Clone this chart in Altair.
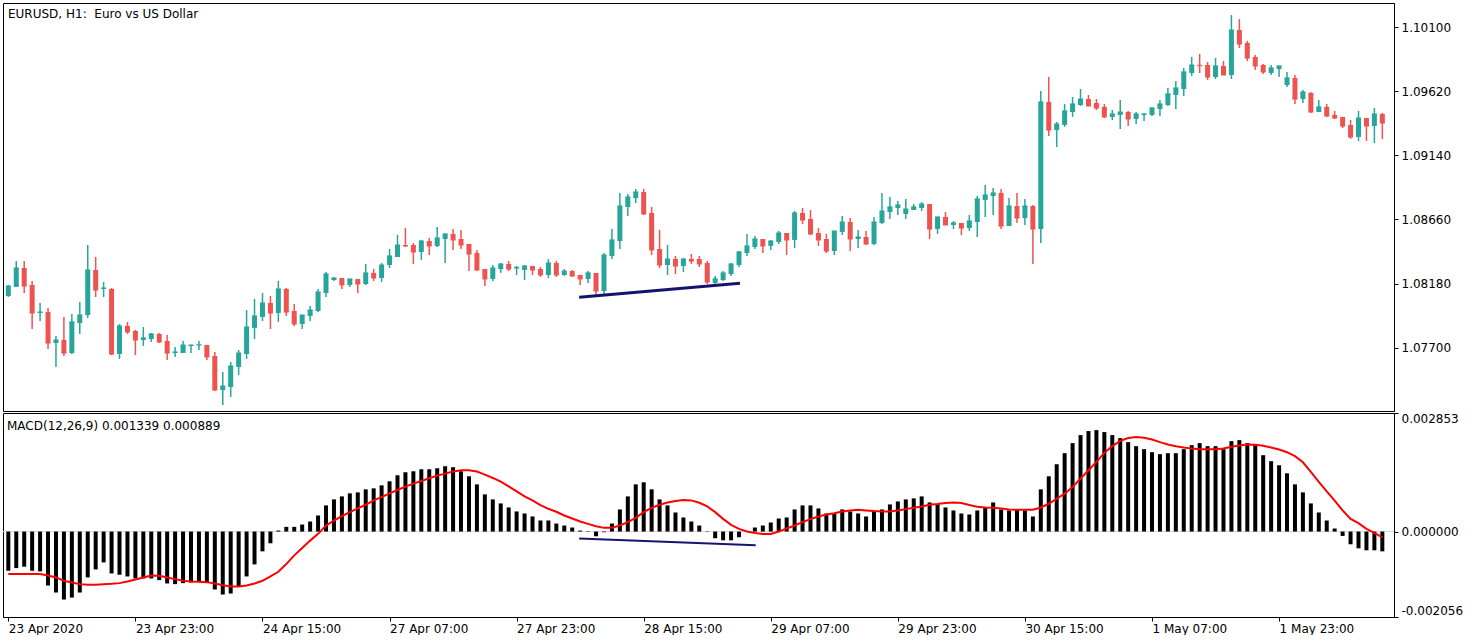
import json
import altair as alt
import pandas as pd

# ---------------- texts ----------------
title_main = "EURUSD, H1:\u00a0 Euro vs US Dollar"
title_macd = "MACD(12,26,9) 0.001339 0.000889"
time_labels = ["23 Apr 2020", "23 Apr 23:00", "24 Apr 15:00", "27 Apr 07:00", "27 Apr 23:00",
               "28 Apr 15:00", "29 Apr 07:00", "29 Apr 23:00", "30 Apr 15:00", "1 May 07:00",
               "1 May 23:00"]
time_tick_bars = [0, 16, 32, 48, 64, 80, 96, 112, 128, 144, 160]
price_ticks = [1.07700, 1.08180, 1.08660, 1.09140, 1.09620, 1.10100]
macd_ticks = [-0.002056, 0.0, 0.002853]

# ---------------- candles (EURUSD H1) ----------------
open_ = [1.08087, 1.08155, 1.08297, 1.08170, 1.07960, 1.07967, 1.07735, 1.07758, 1.07660, 1.07885,
         1.07945, 1.08282, 1.08140, 1.08140, 1.07653, 1.07863, 1.07825, 1.07758, 1.07765, 1.07803,
         1.07750, 1.07660, 1.07660, 1.07713, 1.07718, 1.07720, 1.07638, 1.07383, 1.07406, 1.07556,
         1.07653, 1.07848, 1.07930, 1.08035, 1.07960, 1.08140, 1.07975, 1.07878, 1.07938, 1.07975,
         1.08110, 1.08207, 1.08222, 1.08170, 1.08215, 1.08177, 1.08260, 1.08222, 1.08319, 1.08379,
         1.08469, 1.08469, 1.08417, 1.08499, 1.08462, 1.08514, 1.08552, 1.08514, 1.08477, 1.08409,
         1.08289, 1.08215, 1.08289, 1.08327, 1.08293, 1.08282, 1.08312, 1.08289, 1.08245, 1.08334,
         1.08245, 1.08274, 1.08245, 1.08215, 1.08260, 1.08125, 1.08387, 1.08499, 1.08754, 1.08821,
         1.08866, 1.08709, 1.08439, 1.08319, 1.08364, 1.08312, 1.08364, 1.08364, 1.08334, 1.08185,
         1.08207, 1.08252, 1.08319, 1.08409, 1.08454, 1.08514, 1.08462, 1.08492, 1.08559, 1.08507,
         1.08709, 1.08664, 1.08559, 1.08514, 1.08424, 1.08567, 1.08641, 1.08514, 1.08529, 1.08477,
         1.08634, 1.08716, 1.08746, 1.08701, 1.08731, 1.08746, 1.08776, 1.08589, 1.08679, 1.08619,
         1.08634, 1.08596, 1.08641, 1.08806, 1.08836, 1.08859, 1.08611, 1.08761, 1.08671, 1.08761,
         1.08589, 1.09540, 1.09330, 1.09368, 1.09465, 1.09517, 1.09562, 1.09532, 1.09503, 1.09428,
         1.09443, 1.09465, 1.09413, 1.09443, 1.09443, 1.09488, 1.09517, 1.09592, 1.09637, 1.09757,
         1.09817, 1.09817, 1.09727, 1.09810, 1.09742, 1.10079, 1.09982, 1.09877, 1.09817, 1.09757,
         1.09787, 1.09667, 1.09720, 1.09562, 1.09607, 1.09465, 1.09503, 1.09443, 1.09428, 1.09368,
         1.09278, 1.09420, 1.09360, 1.09450]
high = [1.08170, 1.08349, 1.08349, 1.08200, 1.08035, 1.07997, 1.07788, 1.07930, 1.07953, 1.08042,
        1.08469, 1.08379, 1.08192, 1.08147, 1.07878, 1.07893, 1.07833, 1.07855, 1.07810, 1.07810,
        1.07795, 1.07705, 1.07750, 1.07720, 1.07750, 1.07722, 1.07668, 1.07518, 1.07593, 1.07683,
        1.07982, 1.08065, 1.08110, 1.08087, 1.08200, 1.08147, 1.08027, 1.07945, 1.08012, 1.08140,
        1.08267, 1.08230, 1.08222, 1.08215, 1.08215, 1.08327, 1.08289, 1.08334, 1.08439, 1.08544,
        1.08596, 1.08484, 1.08507, 1.08522, 1.08604, 1.08552, 1.08589, 1.08581, 1.08477, 1.08432,
        1.08289, 1.08319, 1.08334, 1.08349, 1.08312, 1.08319, 1.08312, 1.08304, 1.08364, 1.08349,
        1.08289, 1.08282, 1.08245, 1.08274, 1.08260, 1.08409, 1.08589, 1.08859, 1.08851, 1.08889,
        1.08889, 1.08754, 1.08581, 1.08469, 1.08387, 1.08372, 1.08402, 1.08387, 1.08349, 1.08237,
        1.08274, 1.08334, 1.08424, 1.08552, 1.08537, 1.08514, 1.08507, 1.08574, 1.08559, 1.08724,
        1.08746, 1.08731, 1.08596, 1.08552, 1.08574, 1.08686, 1.08671, 1.08581, 1.08574, 1.08679,
        1.08859, 1.08829, 1.08799, 1.08814, 1.08776, 1.08791, 1.08776, 1.08679, 1.08716, 1.08649,
        1.08634, 1.08694, 1.08836, 1.08918, 1.08896, 1.08889, 1.08821, 1.08859, 1.08814, 1.08769,
        1.09622, 1.09727, 1.09390, 1.09525, 1.09577, 1.09637, 1.09592, 1.09562, 1.09525, 1.09480,
        1.09555, 1.09473, 1.09465, 1.09458, 1.09503, 1.09555, 1.09645, 1.09697, 1.09795, 1.09877,
        1.09899, 1.09839, 1.09869, 1.09847, 1.10191, 1.10161, 1.09997, 1.09892, 1.09825, 1.09817,
        1.09810, 1.09765, 1.09742, 1.09630, 1.09615, 1.09555, 1.09525, 1.09473, 1.09428, 1.09405,
        1.09473, 1.09420, 1.09495, 1.09458]
low = [1.08080, 1.08155, 1.08110, 1.07840, 1.07900, 1.07690, 1.07556, 1.07638, 1.07653, 1.07803,
       1.07923, 1.08080, 1.08080, 1.07645, 1.07616, 1.07803, 1.07645, 1.07713, 1.07743, 1.07735,
       1.07608, 1.07631, 1.07660, 1.07660, 1.07683, 1.07608, 1.07376, 1.07271, 1.07331, 1.07496,
       1.07616, 1.07765, 1.07900, 1.07840, 1.07893, 1.07938, 1.07863, 1.07840, 1.07900, 1.07967,
       1.08080, 1.08200, 1.08140, 1.08155, 1.08110, 1.08170, 1.08200, 1.08192, 1.08297, 1.08379,
       1.08454, 1.08327, 1.08357, 1.08394, 1.08454, 1.08334, 1.08432, 1.08439, 1.08274, 1.08274,
       1.08162, 1.08200, 1.08260, 1.08274, 1.08245, 1.08207, 1.08245, 1.08230, 1.08222, 1.08230,
       1.08237, 1.08230, 1.08170, 1.08185, 1.08087, 1.08095, 1.08364, 1.08439, 1.08686, 1.08784,
       1.08694, 1.08394, 1.08297, 1.08245, 1.08252, 1.08267, 1.08327, 1.08304, 1.08177, 1.08170,
       1.08200, 1.08237, 1.08304, 1.08387, 1.08439, 1.08409, 1.08432, 1.08477, 1.08394, 1.08447,
       1.08626, 1.08544, 1.08462, 1.08409, 1.08394, 1.08544, 1.08424, 1.08447, 1.08469, 1.08469,
       1.08626, 1.08664, 1.08694, 1.08664, 1.08731, 1.08724, 1.08514, 1.08552, 1.08619, 1.08589,
       1.08544, 1.08574, 1.08529, 1.08679, 1.08694, 1.08589, 1.08611, 1.08634, 1.08619, 1.08327,
       1.08484, 1.09285, 1.09203, 1.09353, 1.09428, 1.09510, 1.09510, 1.09480, 1.09420, 1.09405,
       1.09338, 1.09360, 1.09375, 1.09398, 1.09435, 1.09435, 1.09510, 1.09488, 1.09585, 1.09735,
       1.09757, 1.09705, 1.09712, 1.09742, 1.09712, 1.09944, 1.09847, 1.09780, 1.09750, 1.09742,
       1.09727, 1.09652, 1.09525, 1.09532, 1.09458, 1.09465, 1.09428, 1.09413, 1.09345, 1.09263,
       1.09248, 1.09248, 1.09233, 1.09263]
close = [1.08162, 1.08297, 1.08162, 1.07960, 1.07967, 1.07735, 1.07758, 1.07660, 1.07893, 1.07945,
         1.08282, 1.08132, 1.08147, 1.07653, 1.07863, 1.07818, 1.07758, 1.07773, 1.07803, 1.07743,
         1.07660, 1.07668, 1.07720, 1.07720, 1.07722, 1.07631, 1.07383, 1.07413, 1.07563, 1.07660,
         1.07855, 1.07938, 1.08035, 1.07960, 1.08140, 1.07967, 1.07878, 1.07945, 1.07982, 1.08117,
         1.08252, 1.08222, 1.08170, 1.08215, 1.08177, 1.08260, 1.08222, 1.08319, 1.08387, 1.08469,
         1.08462, 1.08417, 1.08499, 1.08462, 1.08522, 1.08552, 1.08507, 1.08469, 1.08402, 1.08282,
         1.08215, 1.08297, 1.08327, 1.08289, 1.08301, 1.08312, 1.08282, 1.08245, 1.08334, 1.08245,
         1.08274, 1.08237, 1.08215, 1.08260, 1.08125, 1.08394, 1.08507, 1.08761, 1.08829, 1.08866,
         1.08701, 1.08432, 1.08319, 1.08364, 1.08312, 1.08364, 1.08349, 1.08327, 1.08192, 1.08215,
         1.08260, 1.08327, 1.08417, 1.08462, 1.08514, 1.08462, 1.08499, 1.08559, 1.08507, 1.08709,
         1.08656, 1.08552, 1.08507, 1.08424, 1.08574, 1.08641, 1.08514, 1.08529, 1.08477, 1.08641,
         1.08724, 1.08754, 1.08769, 1.08739, 1.08754, 1.08776, 1.08589, 1.08679, 1.08619, 1.08634,
         1.08596, 1.08649, 1.08814, 1.08844, 1.08859, 1.08611, 1.08761, 1.08671, 1.08761, 1.08589,
         1.09540, 1.09330, 1.09375, 1.09473, 1.09525, 1.09562, 1.09510, 1.09495, 1.09428, 1.09450,
         1.09465, 1.09413, 1.09450, 1.09450, 1.09495, 1.09525, 1.09600, 1.09645, 1.09765, 1.09817,
         1.09813, 1.09727, 1.09810, 1.09742, 1.10079, 1.09974, 1.09869, 1.09810, 1.09765, 1.09795,
         1.09810, 1.09720, 1.09562, 1.09615, 1.09465, 1.09503, 1.09435, 1.09420, 1.09360, 1.09278,
         1.09420, 1.09360, 1.09450, 1.09383]

# ---------------- MACD (values in millionths) ----------------
macd_hist_e6 = [-943, -879, -846, -943, -959, -1298, -1467, -1636, -1588, -1467,
                -1104, -911, -742, -1008, -1040, -1080, -1128, -1128, -1128, -1169,
                -1249, -1265, -1241, -1225, -1201, -1225, -1394, -1515, -1491, -1314,
                -1080, -790, -476, -282, 24, 113, 113, 169, 242, 387,
                629, 774, 846, 919, 943, 1016, 1040, 1112, 1209, 1354,
                1427, 1451, 1499, 1499, 1523, 1572, 1548, 1451, 1330, 1136,
                895, 774, 677, 580, 484, 435, 363, 266, 266, 193,
                145, 97, 24, -10, -113, -16, 193, 532, 846, 1136,
                1185, 1016, 774, 629, 459, 339, 242, 145, -8, -161,
                -210, -210, -137, 5, 97, 145, 218, 314, 339, 532,
                629, 629, 556, 435, 435, 532, 484, 435, 363, 484,
                532, 653, 725, 774, 798, 846, 701, 653, 580, 508,
                435, 411, 508, 580, 701, 532, 508, 532, 508, 363,
                1016, 1330, 1620, 1886, 2128, 2321, 2418, 2442, 2394, 2321,
                2249, 2152, 2055, 1983, 1910, 1862, 1886, 1886, 1983, 2079,
                2128, 2055, 2055, 1983, 2176, 2200, 2128, 2079, 1838, 1693,
                1596, 1402, 1136, 943, 677, 459, 266, 73, -105, -306,
                -403, -451, -451, -476]
signal_e6 = [-1024, -1024, -1024, -1024, -1024, -1056, -1104, -1185, -1225, -1265,
             -1282, -1282, -1265, -1257, -1241, -1201, -1153, -1104, -1056, -1064,
             -1104, -1145, -1185, -1201, -1209, -1217, -1249, -1290, -1322, -1322,
             -1298, -1249, -1185, -1080, -967, -782, -572, -395, -218, -56,
             145, 266, 371, 467, 556, 645, 750, 830, 919, 999,
             1080, 1153, 1217, 1282, 1346, 1394, 1443, 1475, 1475, 1443,
             1370, 1290, 1201, 1088, 967, 846, 750, 637, 548, 476,
             387, 314, 242, 185, 129, 89, 89, 145, 226, 330,
             467, 572, 645, 701, 733, 758, 750, 693, 605, 467,
             306, 161, 64, 0, -32, -56, -56, 0, 73, 145,
             226, 298, 363, 411, 443, 484, 508, 524, 508, 492,
             484, 484, 508, 540, 572, 605, 645, 661, 685, 701,
             685, 637, 596, 580, 572, 556, 532, 524, 524, 524,
             580, 669, 790, 911, 1072, 1273, 1475, 1676, 1894, 2055,
             2184, 2249, 2273, 2257, 2217, 2152, 2096, 2055, 2023, 1999,
             1983, 1983, 1983, 1999, 2039, 2071, 2096, 2088, 2063, 2023,
             1975, 1910, 1814, 1668, 1435, 1193, 967, 742, 508, 306,
             202, 64, -32, -137]

# ---------------- hand-drawn trend lines ----------------
price_trend_bars = [71.875, 92.125]
price_trend_vals = [1.08078, 1.08182]
macd_trend_bars = [71.875, 94.1]
macd_trend_vals = [-0.000169, -0.000330]

# ---------------- tables ----------------
n = len(open_)
candles = pd.DataFrame({"bar": list(range(n)), "open": open_, "high": high,
                        "low": low, "close": close})
candles["dir"] = ["up" if c >= o else "down" for o, c in zip(open_, close)]

macd_df = pd.DataFrame({"bar": list(range(n)),
                        "macd": [v * 1e-6 for v in macd_hist_e6],
                        "signal": [v * 1e-6 for v in signal_e6],
                        "zero": [0.0] * n})

font = "DejaVu Sans"
x_scale = alt.Scale(domain=[-0.04, 173.84], nice=False, zero=False)
p_scale = alt.Scale(domain=[1.07226, 1.10281], nice=False, zero=False)
m_scale = alt.Scale(domain=[-0.002056, 0.002853], nice=False, zero=False)

p_axis = alt.Axis(orient="right", values=price_ticks, format=".5f", title=None, grid=False,
                  tickSize=4, labelPadding=3, labelFlush=False)
m_axis = alt.Axis(orient="right", values=macd_ticks, title=None, grid=False, tickSize=4,
                  labelPadding=3, labelFlush=True,
                  labelExpr="datum.value < 0 ? '-' + format(-datum.value, '.6f') : format(datum.value, '.6f')")
t_axis = alt.Axis(orient="bottom", values=time_tick_bars, title=None, grid=False, tickSize=4,
                  labelPadding=2, labelAlign="left", labelFlush=False,
                  labelExpr=json.dumps(time_labels) + "[round(datum.value / 16)]")

color = alt.Color("dir:N", scale=alt.Scale(domain=["up", "down"], range=["#26a69a", "#ef5350"]),
                  legend=None)
xq = alt.X("bar:Q", scale=x_scale, axis=None, title=None)

wicks = alt.Chart(candles).mark_rule(strokeWidth=1.5, clip=True).encode(
    x=xq, y=alt.Y("low:Q", scale=p_scale, axis=p_axis, title=None), y2="high:Q", color=color)
bodies = alt.Chart(candles).mark_bar(width=5, clip=True).encode(
    x=xq, y=alt.Y("open:Q", scale=p_scale, axis=p_axis, title=None), y2="close:Q", color=color)
dojis = alt.Chart(candles).mark_tick(orient="horizontal", size=5, thickness=1.5, clip=True).encode(
    x=xq, y=alt.Y("close:Q", scale=p_scale, axis=p_axis, title=None), color=color)
ptrend = alt.Chart(pd.DataFrame({"bar": price_trend_bars, "v": price_trend_vals})).mark_line(
    color="#14146e", strokeWidth=3).encode(
    x=xq, y=alt.Y("v:Q", scale=p_scale, axis=p_axis, title=None))
ptitle = alt.Chart(pd.DataFrame({"t": [title_main]})).mark_text(
    align="left", baseline="middle", font=font, fontSize=12, color="black").encode(
    x=alt.value(5), y=alt.value(10.5), text="t:N")

top = alt.layer(wicks, bodies, dojis, ptrend, ptitle).properties(width=1391, height=408)

xm = alt.X("bar:Q", scale=x_scale, axis=t_axis, title=None)
zero_line = alt.Chart(pd.DataFrame({"zero": [0.0]})).mark_rule(color="#d9d9d9", strokeWidth=1).encode(
    y=alt.Y("zero:Q", scale=m_scale, axis=m_axis, title=None))
hist = alt.Chart(macd_df).mark_bar(width=4, color="black", clip=True).encode(
    x=xm, y=alt.Y("macd:Q", scale=m_scale, axis=m_axis, title=None), y2="zero:Q")
sig = alt.Chart(macd_df).mark_line(color="#ff0000", strokeWidth=2, clip=True).encode(
    x=xm, y=alt.Y("signal:Q", scale=m_scale, axis=m_axis, title=None))
mtrend = alt.Chart(pd.DataFrame({"bar": macd_trend_bars, "v": macd_trend_vals})).mark_line(
    color="#14146e", strokeWidth=2).encode(
    x=xm, y=alt.Y("v:Q", scale=m_scale, axis=m_axis, title=None))
mtitle = alt.Chart(pd.DataFrame({"t": [title_macd]})).mark_text(
    align="left", baseline="middle", font=font, fontSize=12, color="black").encode(
    x=alt.value(4), y=alt.value(12.5), text="t:N")

bottom = alt.layer(zero_line, hist, sig, mtrend, mtitle).properties(width=1391, height=204)

chart = alt.vconcat(top, bottom, spacing=2, bounds="flush").resolve_scale(
    y="independent", color="independent").configure_view(
    stroke="black", strokeWidth=1).configure_axis(
    labelFont=font, labelFontSize=12, labelColor="black", domainColor="black", tickColor="black",
    domainWidth=1, tickWidth=1).properties(
    padding={"left": 2, "top": 2, "right": 0, "bottom": 0},
    background="white")

chart.save("out.html", embed_options={"renderer": "svg", "actions": False})
